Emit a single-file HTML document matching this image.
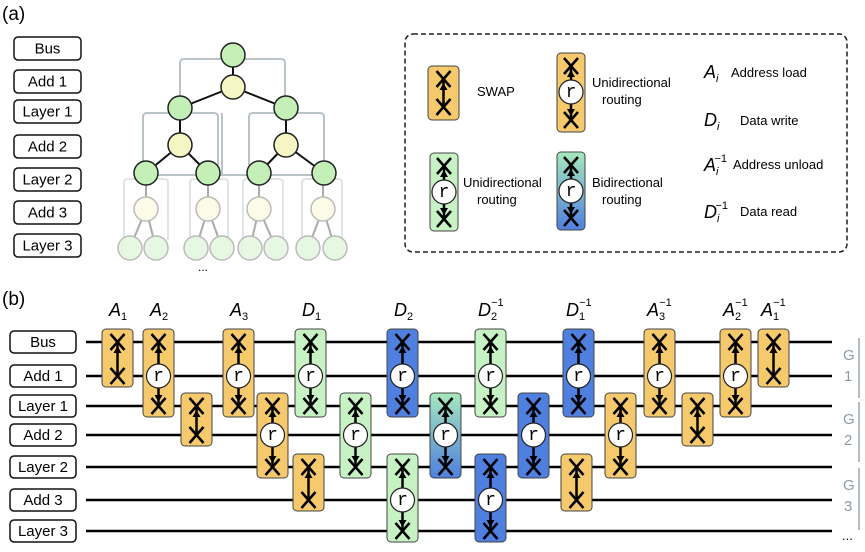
<!DOCTYPE html>
<html><head><meta charset="utf-8"><style>
body{margin:0;background:#fff;}
svg{display:block;font-family:"Liberation Sans",sans-serif;}
</style></head><body>
<svg id="s" width="865" height="552" viewBox="0 0 865 552" xmlns="http://www.w3.org/2000/svg">
<defs>
<linearGradient id="gr" x1="0" y1="0" x2="0" y2="1"><stop offset="0" stop-color="#a6e8bc"/><stop offset="1" stop-color="#4f80df"/></linearGradient>
</defs>
<text x="2" y="20" font-size="19">(a)</text>
<text x="2" y="305" font-size="19">(b)</text>
</svg>
<script>
const S=document.getElementById('s');
let out='';
function box(x,y,w,h,t,fs){out+=`<rect x="${x}" y="${y}" width="${w}" height="${h}" rx="4" fill="#fff" stroke="#111" stroke-width="1.5"/><text x="${x+w/2}" y="${y+h/2+5}" font-size="${fs}" text-anchor="middle">${t}</text>`;}
[["Bus",37],["Add 1",70],["Layer 1",100],["Add 2",135],["Layer 2",168],["Add 3",201],["Layer 3",234]].forEach(a=>box(14,a[1],67,23,a[0],15));
const gl='fill="none" stroke="#b8c4c8" stroke-width="2"';
out+=`<path d="M180,97 V63 Q180,59 184,59 H281 Q285,59 285,63 V97" ${gl}/>`;
out+=`<path d="M143,165 V117 Q143,113 147,113 H214 Q218,113 218,117 V165" ${gl}/>`;
out+=`<path d="M249,165 V117 Q249,113 253,113 H320 Q324,113 324,117 V165" ${gl}/>`;
out+=`<path d="M222,113 V175 M146,175 H330" ${gl}/>`;
const fl='fill="none" stroke="#dfe5e6" stroke-width="2"';
[[124,168],[190,228],[243,283],[302,342]].forEach(p=>{out+=`<path d="M${p[0]},240 V183 Q${p[0]},179 ${p[0]+4},179 H${p[1]-4} Q${p[1]},179 ${p[1]},183 V240" ${fl}/>`;});
function ln(a,b,c,d,col,w){out+=`<line x1="${a}" y1="${b}" x2="${c}" y2="${d}" stroke="${col}" stroke-width="${w}"/>`;}
ln(233,55,233,87,'#111',2);ln(233,87,180,108,'#111',2);ln(233,87,286,108,'#111',2);
ln(180,108,180,145,'#111',2);ln(286,108,286,145,'#111',2);
ln(180,145,146,173,'#111',2);ln(180,145,208,173,'#111',2);ln(286,145,259,173,'#111',2);ln(286,145,324,173,'#111',2);
[[146,130,156],[208,196,222],[259,250,276],[323,308,335]].forEach(p=>{ln(p[0],173,p[0],209,'#aaa',2);ln(p[0],209,p[1],248,'#aaa',2);ln(p[0],209,p[2],248,'#aaa',2);});
function nd(x,y,f,st){out+=`<circle cx="${x}" cy="${y}" r="12" fill="${f}" stroke="${st}" stroke-width="1.5"/>`;}
nd(233,55,'#c4f0b8','#222');nd(233,87,'#f6f6c4','#222');
nd(180,108,'#c4f0b8','#222');nd(286,108,'#c4f0b8','#222');
nd(180,145,'#f6f6c4','#222');nd(286,145,'#f6f6c4','#222');
[146,208,259,324].forEach(x=>nd(x,173,'#c4f0b8','#222'));
[146,208,259,323].forEach(x=>nd(x,209,'#fbfbe8','#bbb'));
[130,156,196,222,250,276,308,335].forEach(x=>nd(x,248,'#e6f7e2','#bbb'));
out+=`<text x="203" y="271" font-size="12" text-anchor="middle">...</text>`;
out+=`<rect x="405" y="34" width="442" height="218" rx="8" fill="none" stroke="#222" stroke-width="1.5" stroke-dasharray="5,3"/>`;
const C={O:'#f5c96c',G:'#c6f2c4',B:'#4f80df',R:'url(#gr)'};
function X(cx,cy){ln(cx-7,cy-8,cx+7,cy+8,'#000',2.5);ln(cx-7,cy+8,cx+7,cy-8,'#000',2.5);}
function arrow(cx,y,dir){out+=`<polygon points="${cx},${y} ${cx-4},${y+7*dir} ${cx+4},${y+7*dir}" fill="#000"/>`;}
function gate(x,w,ry,rh,yt,ym,yb,col){
 const cx=x+w/2;
 out+=`<rect x="${x}" y="${ry}" width="${w}" height="${rh}" rx="4" fill="${C[col]}" stroke="#444" stroke-width="1"/>`;
 ln(cx,yt,cx,yb,'#000',2.5);
 X(cx,yt);X(cx,yb);
 if(ym!==null){arrow(cx,yt+4,1);arrow(cx,yb-4,-1);
  out+=`<circle cx="${cx}" cy="${ym}" r="12" fill="#fff" stroke="#222" stroke-width="1.2"/><text x="${cx}" y="${ym+5}" font-family="Liberation Mono,monospace" font-size="18" text-anchor="middle">r</text>`;}
 else{arrow(cx,yt+4,1);}
}
gate(428,31,66,54,79,null,107,'O');
gate(557,28,53,79,66,92,120,'O');
gate(430,28,153,78,166,192,219,'G');
gate(557,28,152,78,165,191,218,'R');
function t(x,y,s,fs,extra){out+=`<text x="${x}" y="${y}" font-size="${fs}" ${extra||''}>${s}</text>`;}
t(477,96,'SWAP',13);
t(592,87,'Unidirectional',13);t(602,104,'routing',13);
t(463,187,'Unidirectional',13);t(477,204,'routing',13);
t(592,187,'Bidirectional',13);t(602,204,'routing',13);
const sup='<tspan font-size="11" dx="-4" dy="-13">−1</tspan>';
t(704,78,'<tspan font-style="italic" font-size="18">A</tspan><tspan font-style="italic" font-size="11" dy="4">i</tspan>',18);t(731,77,'Address load',13);
t(704,126,'<tspan font-style="italic" font-size="18">D</tspan><tspan font-style="italic" font-size="11" dy="4">i</tspan>',18);t(740,125,'Data write',13);
t(704,171,'<tspan font-style="italic" font-size="18">A</tspan><tspan font-style="italic" font-size="11" dy="4">i</tspan>'+sup,18);t(733,169,'Address unload',13);
t(704,218,'<tspan font-style="italic" font-size="18">D</tspan><tspan font-style="italic" font-size="11" dy="4">i</tspan>'+sup,18);t(740,216,'Data read',13);
const W=[342,376,406,435,467,500,531];
[["Bus",0],["Add 1",1],["Layer 1",2],["Add 2",3],["Layer 2",4],["Add 3",5],["Layer 3",6]].forEach(a=>{box(10,W[a[1]]-11,66,22,a[0],15);ln(86,W[a[1]],832,W[a[1]],'#000',2.5);});
const G=[[102,0,1,'s','O'],[143,0,2,'r','O'],[181,2,3,'s','O'],[223,0,2,'r','O'],[257,2,4,'r','O'],[295,0,2,'r','G'],[293,4,5,'s','O'],[340,2,4,'r','G'],[387,0,2,'r','B'],[387,4,6,'r','G'],[430,2,4,'r','R'],[475,0,2,'r','G'],[475,4,6,'r','B'],[518,2,4,'r','B'],[563,0,2,'r','B'],[561,4,5,'s','O'],[605,2,4,'r','O'],[644,0,2,'r','O'],[682,2,3,'s','O'],[720,0,2,'r','O'],[758,0,1,'s','O']];
G.forEach(g=>{const yt=W[g[1]],yb=W[g[2]];gate(g[0],31,yt-13,yb-yt+24,yt,g[3]=='r'?W[g[1]+1]:null,yb,g[4]);});
function lab(x,L,i,inv){out+=`<text x="${x-8}" y="316" font-size="18" font-style="italic">${L}<tspan font-size="11" dy="4" font-style="normal">${i}</tspan>${inv?'<tspan font-size="11" dx="-6" dy="-14" font-style="normal">−1</tspan>':''}</text>`;}
lab(117,'A',1);lab(158,'A',2);lab(238,'A',3);lab(310,'D',1);lab(402,'D',2);
lab(486,'D',2,1);lab(574,'D',1,1);lab(655,'A',3,1);lab(731,'A',2,1);lab(769,'A',1,1);
[[1,338,398,360],[2,402,462,424],[3,468,530,490]].forEach(g=>{ln(859,g[1],859,g[2],'#9aa8b4',1.5);t(843,g[3],'G',15,'fill="#8c9aa6"');t(844,g[3]+21,String(g[0]),15,'fill="#8c9aa6"');});
t(842,540,'...',13);
S.insertAdjacentHTML('beforeend',out);
</script>
</body></html>
